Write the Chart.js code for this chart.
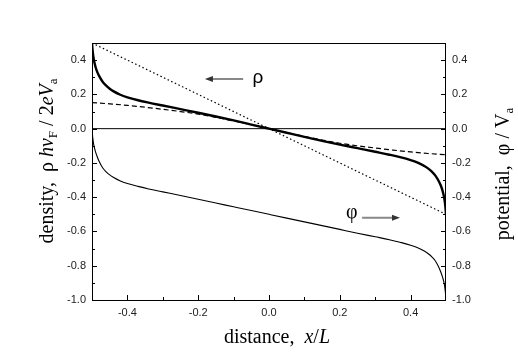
<!DOCTYPE html>
<html lang="en">
<head>
  <meta charset="UTF-8" />
  <title>Density and potential</title>
  <script src="https://cdn.jsdelivr.net/npm/chart.js"></script>
  <style>
    * { margin: 0; padding: 0; box-sizing: border-box; }
    body { background: #fff; }
  </style>
</head>
<body>
  <canvas id="chart" width="518" height="361"></canvas>

  <script>
    // x positions (x/L) for the two solid curves
    const xFine = [-0.5, -0.498, -0.495, -0.49, -0.485, -0.48, -0.47, -0.46, -0.45, -0.44, -0.42, -0.4, -0.37, -0.34, -0.3, -0.25, -0.2, -0.15, -0.1, -0.05,
                   0, 0.05, 0.1, 0.15, 0.2, 0.25, 0.3, 0.34, 0.37, 0.4, 0.42, 0.44, 0.45, 0.46, 0.47, 0.48, 0.485, 0.49, 0.495, 0.498, 0.5];
    // thick solid: density
    const density = [0.5, 0.45, 0.405, 0.36, 0.33, 0.308, 0.274, 0.251, 0.233, 0.219, 0.198, 0.183, 0.166, 0.152, 0.135, 0.114, 0.093, 0.071, 0.048, 0.024,
                     0, -0.024, -0.048, -0.071, -0.093, -0.114, -0.135, -0.152, -0.166, -0.183, -0.198, -0.219, -0.233, -0.251, -0.274, -0.308, -0.33, -0.36, -0.405, -0.45, -0.5];
    // thin solid: potential
    const potential = [0, -0.05, -0.095, -0.135, -0.165, -0.19, -0.228, -0.252, -0.27, -0.284, -0.305, -0.32, -0.337, -0.352, -0.369, -0.39, -0.412, -0.434, -0.456, -0.478,
                       -0.5, -0.522, -0.544, -0.566, -0.588, -0.61, -0.631, -0.648, -0.663, -0.68, -0.695, -0.716, -0.73, -0.748, -0.772, -0.81, -0.835, -0.865, -0.905, -0.95, -1.0];
    // dashed curve
    const xDash = [-0.5, -0.45, -0.4, -0.35, -0.3, -0.25, -0.2, -0.15, -0.1, -0.05, 0, 0.05, 0.1, 0.15, 0.2, 0.25, 0.3, 0.35, 0.4, 0.45, 0.5];
    const dashed = [0.152, 0.145, 0.136, 0.125, 0.113, 0.1, 0.085, 0.066, 0.045, 0.023, 0, -0.023, -0.045, -0.066, -0.085, -0.1, -0.113, -0.125, -0.136, -0.145, -0.152];
    // dotted straight line
    const xDot = [-0.5, 0.5];
    const dotted = [0.5, -0.5];
    // zero line
    const xZero = [-0.5, 0.5];
    const zero = [0, 0];

    const xTicks = [-0.4, -0.2, 0, 0.2, 0.4];
    const xMinor = [-0.3, -0.1, 0.1, 0.3];
    const yTicks = [-1.0, -0.8, -0.6, -0.4, -0.2, 0, 0.2, 0.4];
    const yMinor = [-0.9, -0.7, -0.5, -0.3, -0.1, 0.1, 0.3];

    // arrow labels: [text, x, y], arrows: [x1, x2, y]
    const labelRho = ['ρ', -0.031, 0.296];
    const arrowRho = [-0.073, -0.181, 0.29];
    const labelPhi = ['φ', 0.234, -0.49];
    const arrowPhi = [0.263, 0.37, -0.52];

    const pts = (xa, ya) => xa.map((x, i) => ({ x: x, y: ya[i] }));

    const serif = '"Liberation Serif", "Times New Roman", serif';
    const sans = '"Liberation Sans", Arial, sans-serif';

    // draw a list of text runs [text, font, dy] along a line starting at x0
    function drawRuns(ctx, runs, x0, y0) {
      let x = x0;
      runs.forEach(r => {
        ctx.font = r[1];
        ctx.fillText(r[0], x, y0 + (r[2] || 0));
        x += ctx.measureText(r[0]).width;
      });
    }
    function runsWidth(ctx, runs) {
      let w = 0;
      runs.forEach(r => { ctx.font = r[1]; w += ctx.measureText(r[0]).width; });
      return w;
    }

    const decor = {
      id: 'decor',
      afterDraw(chart) {
        const ctx = chart.ctx;
        const a = chart.chartArea;
        const sx = chart.scales.x, sy = chart.scales.y;
        ctx.save();
        ctx.strokeStyle = '#000';
        ctx.lineWidth = 1;
        ctx.strokeRect(a.left + 0.5, a.top + 0.5, a.right - a.left - 1, a.bottom - a.top);

        // inward ticks
        ctx.beginPath();
        const tx = (v, len) => {
          const p = Math.round(sx.getPixelForValue(v)) + 0.5;
          ctx.moveTo(p, a.bottom); ctx.lineTo(p, a.bottom - len);
        };
        const ty = (v, len) => {
          const p = Math.round(sy.getPixelForValue(v)) + 0.5;
          ctx.moveTo(a.left, p); ctx.lineTo(a.left + len, p);
          ctx.moveTo(a.right, p); ctx.lineTo(a.right - len, p);
        };
        xTicks.forEach(v => tx(v, 5));
        xMinor.forEach(v => tx(v, 3));
        yTicks.forEach(v => ty(v, 5));
        yMinor.forEach(v => ty(v, 3));
        ctx.stroke();

        // arrows
        const arrow = (arr) => {
          const x1 = sx.getPixelForValue(arr[0]);
          const x2 = sx.getPixelForValue(arr[1]);
          const y = sy.getPixelForValue(arr[2]);
          const dir = Math.sign(x2 - x1);
          ctx.strokeStyle = '#888';
          ctx.lineWidth = 2;
          ctx.beginPath();
          ctx.moveTo(x1, y); ctx.lineTo(x2 - dir * 6, y);
          ctx.stroke();
          ctx.fillStyle = '#333';
          ctx.beginPath();
          ctx.moveTo(x2, y);
          ctx.lineTo(x2 - dir * 8, y - 3);
          ctx.lineTo(x2 - dir * 8, y + 3);
          ctx.closePath();
          ctx.fill();
        };
        arrow(arrowRho);
        arrow(arrowPhi);

        ctx.fillStyle = '#000';
        ctx.textAlign = 'center';
        ctx.textBaseline = 'middle';
        ctx.font = '19px ' + sans;
        ctx.fillText(labelRho[0], sx.getPixelForValue(labelRho[1]), sy.getPixelForValue(labelRho[2]));
        ctx.font = '20px ' + serif;
        ctx.fillText(labelPhi[0], sx.getPixelForValue(labelPhi[1]), sy.getPixelForValue(labelPhi[2]));

        // axis titles
        ctx.textAlign = 'left';
        ctx.textBaseline = 'alphabetic';
        const f = '20px ' + serif, fi = 'italic 20px ' + serif, fs = '13px ' + serif;

        const bottom = [['distance,  ', f], ['x', fi], ['/', f], ['L', fi]];
        const bw = runsWidth(ctx, bottom);
        drawRuns(ctx, bottom, (a.left + a.right) / 2 + 8 - bw / 2, 343);

        const left = [['density,  ρ ', f], ['hv', fi], ['F', fs, 4], [' / 2', f], ['eV', fi], ['a', fs, 4]];
        ctx.save();
        ctx.translate(53, 161);
        ctx.rotate(-Math.PI / 2);
        drawRuns(ctx, left, -runsWidth(ctx, left) / 2, 0);
        ctx.restore();

        const right = [['potential,  φ / V', f], ['a', fs, 4]];
        ctx.save();
        ctx.translate(509, 174);
        ctx.rotate(-Math.PI / 2);
        drawRuns(ctx, right, -runsWidth(ctx, right) / 2, 0);
        ctx.restore();

        ctx.restore();
      }
    };

    const tickFont = { family: sans, size: 11 };
    const fmt = v => Number(v).toFixed(1);
    const noGrid = { display: false, drawTicks: false };

    new Chart(document.getElementById('chart'), {
      type: 'scatter',
      data: {
        datasets: [
          { data: pts(xZero, zero), borderColor: '#000', borderWidth: 1, showLine: true, pointRadius: 0 },
          { data: pts(xDot, dotted), borderColor: '#000', borderWidth: 1.2, borderDash: [1.5, 2.5], showLine: true, pointRadius: 0 },
          { data: pts(xDash, dashed), borderColor: '#000', borderWidth: 1.2, borderDash: [5, 3], showLine: true, pointRadius: 0, cubicInterpolationMode: 'monotone' },
          { data: pts(xFine, potential), borderColor: '#000', borderWidth: 1.1, showLine: true, pointRadius: 0, cubicInterpolationMode: 'monotone' },
          { data: pts(xFine, density), borderColor: '#000', borderWidth: 2.4, showLine: true, pointRadius: 0, cubicInterpolationMode: 'monotone' }
        ]
      },
      options: {
        responsive: false,
        animation: false,
        layout: { padding: { top: 43, left: 0, right: 0, bottom: 0 } },
        plugins: { legend: { display: false }, tooltip: { enabled: false } },
        scales: {
          x: {
            type: 'linear', min: -0.5, max: 0.5,
            grid: noGrid, border: { display: false },
            afterBuildTicks: s => { s.ticks = xTicks.map(v => ({ value: v })); },
            afterFit: s => { s.height = 61; },
            ticks: { font: tickFont, color: '#222', padding: 6, maxRotation: 0, callback: fmt }
          },
          y: {
            type: 'linear', position: 'left', min: -1.0, max: 0.5,
            grid: noGrid, border: { display: false },
            afterBuildTicks: s => { s.ticks = yTicks.map(v => ({ value: v })); },
            afterFit: s => { s.width = 92; },
            ticks: { font: tickFont, color: '#222', padding: 6, callback: fmt }
          },
          y2: {
            type: 'linear', position: 'right', min: -1.0, max: 0.5,
            grid: noGrid, border: { display: false },
            afterBuildTicks: s => { s.ticks = yTicks.map(v => ({ value: v })); },
            afterFit: s => { s.width = 72; },
            ticks: { font: tickFont, color: '#222', padding: 6, callback: fmt }
          }
        }
      },
      plugins: [decor]
    });
  </script>
</body>
</html>
